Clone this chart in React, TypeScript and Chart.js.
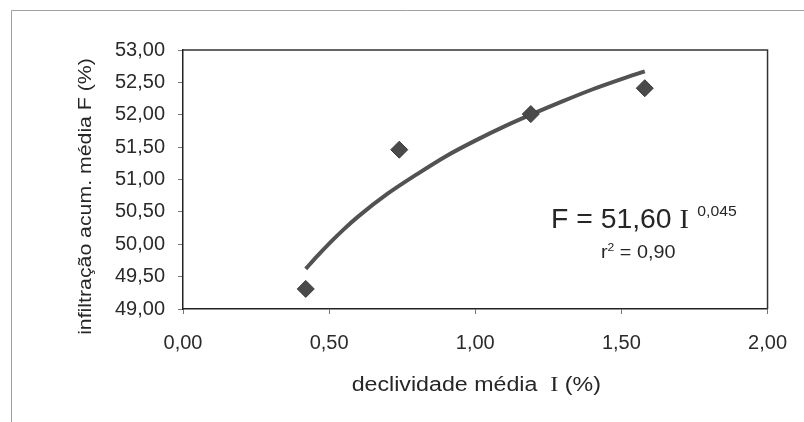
import React, { useEffect, useRef } from "react";
import { Chart, registerables } from "chart.js";

Chart.register(...registerables);

// ---- data ----
const slopeValues = [0.42, 0.74, 1.19, 1.58];
const infiltrationValues = [49.31, 51.46, 52.01, 52.41];
const trendSlope = [0.42, 0.46, 0.5, 0.55, 0.6, 0.7, 0.8, 0.9, 1.0, 1.1, 1.2, 1.3, 1.4, 1.5, 1.58];
const trendInfiltration = [49.62, 49.82, 50.01, 50.23, 50.43, 50.78, 51.08, 51.36, 51.6, 51.82, 52.02, 52.21, 52.39, 52.55, 52.67];
const xRange = [0, 2];
const yRange = [49, 53];
const tickStep = 0.5;
const yAxisTitle = "infiltração acum. média F (%)";
const xAxisTitleParts = ["declividade média  ", "I", " (%)"];
const equationParts = ["F = 51,60 ", "I", "0,045"];
const r2Parts = ["r", "2", " = 0,90"];

const SANS = '"Liberation Sans", Arial, sans-serif';
const SERIF = '"Liberation Serif", "Times New Roman", serif';
const TEXT = "#262626";

type Run = { text: string; font: string; dy?: number; gap?: number };

function drawRuns(ctx: CanvasRenderingContext2D, runs: Run[], x: number, y: number, sx: number, align: "left" | "center") {
  let total = 0;
  const widths = runs.map((r) => {
    ctx.font = r.font;
    const w = ctx.measureText(r.text).width + (r.gap || 0);
    total += w;
    return w;
  });
  ctx.save();
  ctx.translate(x, y);
  ctx.scale(sx, 1);
  let cx = align === "center" ? -total / 2 : 0;
  ctx.textAlign = "left";
  runs.forEach((r, i) => {
    ctx.font = r.font;
    ctx.fillText(r.text, cx + (r.gap || 0), r.dy || 0);
    cx += widths[i];
  });
  ctx.restore();
}

const decorations = {
  id: "decorations",
  afterDraw(chart: any) {
    const { ctx, chartArea: a } = chart;
    ctx.save();
    // outer frame (top + left)
    ctx.strokeStyle = "#a0a0a0";
    ctx.lineWidth = 1;
    ctx.beginPath();
    ctx.moveTo(11.5, 422);
    ctx.lineTo(11.5, 10.5);
    ctx.lineTo(804, 10.5);
    ctx.stroke();
    // plot box top + right
    ctx.strokeStyle = "#333";
    ctx.lineWidth = 1.5;
    ctx.beginPath();
    ctx.moveTo(a.left, a.top);
    ctx.lineTo(a.right, a.top);
    ctx.lineTo(a.right, a.bottom);
    ctx.stroke();

    ctx.fillStyle = TEXT;
    ctx.textBaseline = "middle";
    // y title
    ctx.save();
    ctx.translate(86, (a.top + a.bottom) / 2 + 17);
    ctx.rotate(-Math.PI / 2);
    ctx.scale(1.12, 1);
    ctx.font = `19px ${SANS}`;
    ctx.textAlign = "center";
    ctx.fillText(yAxisTitle, 0, 0);
    ctx.restore();

    // x title
    drawRuns(
      ctx,
      [
        { text: xAxisTitleParts[0], font: `20px ${SANS}` },
        { text: xAxisTitleParts[1], font: `21px ${SERIF}` },
        { text: xAxisTitleParts[2], font: `20px ${SANS}` },
      ],
      (a.left + a.right) / 2 + 1,
      385,
      1.16,
      "center"
    );

    // equation
    ctx.textBaseline = "alphabetic";
    drawRuns(
      ctx,
      [
        { text: equationParts[0], font: `27px ${SANS}` },
        { text: equationParts[1], font: `27px ${SERIF}` },
        { text: equationParts[2], font: `15px ${SANS}`, dy: -12, gap: 8 },
      ],
      551,
      228,
      1.05,
      "left"
    );
    drawRuns(
      ctx,
      [
        { text: r2Parts[0], font: `18px ${SANS}` },
        { text: r2Parts[1], font: `11px ${SANS}`, dy: -7 },
        { text: r2Parts[2], font: `18px ${SANS}` },
      ],
      601,
      258,
      1.1,
      "left"
    );
    ctx.restore();
  },
};

const fmt = (v: number) => v.toFixed(2).replace(".", ",");

export default function App() {
  const ref = useRef<HTMLCanvasElement>(null);
  useEffect(() => {
    if (!ref.current) return;
    const chart = new Chart(ref.current, {
      type: "scatter",
      data: {
        datasets: [
          {
            label: "pontos",
            data: slopeValues.map((x, i) => ({ x, y: infiltrationValues[i] })),
            pointStyle: "rectRot",
            pointRadius: 8.5,
            backgroundColor: "#4a4a4a",
            borderColor: "#3a3a3a",
            borderWidth: 1,
            showLine: false,
            order: 0,
          },
          {
            label: "tendência",
            data: trendSlope.map((x, i) => ({ x, y: trendInfiltration[i] })),
            showLine: true,
            pointRadius: 0,
            borderColor: "#525252",
            borderWidth: 4,
            cubicInterpolationMode: "monotone",
            fill: false,
            order: 1,
          },
        ],
      },
      options: {
        animation: false,
        responsive: false,
        maintainAspectRatio: false,
        events: [],
        layout: { padding: { left: 0, top: 50, right: 35, bottom: 0 } },
        plugins: { legend: { display: false }, tooltip: { enabled: false } },
        scales: {
          x: {
            type: "linear",
            min: xRange[0],
            max: xRange[1],
            afterFit: (s: any) => {
              s.height = 113;
            },
            ticks: {
              stepSize: tickStep,
              callback: (v: any) => fmt(Number(v)),
              color: "#2a2a2a",
              font: { family: SANS, size: 20 },
              padding: 17,
              maxRotation: 0,
            },
            grid: { drawOnChartArea: false, drawTicks: true, tickLength: 5, color: "#777" },
            border: { display: true, color: "#222", width: 1.5 },
          },
          y: {
            type: "linear",
            min: yRange[0],
            max: yRange[1],
            afterFit: (s: any) => {
              s.width = 183;
            },
            ticks: {
              stepSize: tickStep,
              callback: (v: any) => fmt(Number(v)),
              color: "#2a2a2a",
              font: { family: SANS, size: 20 },
              padding: 13,
            },
            grid: { drawOnChartArea: false, drawTicks: true, tickLength: 5, color: "#777" },
            border: { display: true, color: "#222", width: 1.5 },
          },
        },
      },
      plugins: [decorations],
    } as any);
    return () => chart.destroy();
  }, []);
  return (
    <div style={{ position: "absolute", left: 0, top: 0, width: 804, height: 422, background: "#fff" }}>
      <canvas ref={ref} width={804} height={422} style={{ display: "block" }} />
    </div>
  );
}
